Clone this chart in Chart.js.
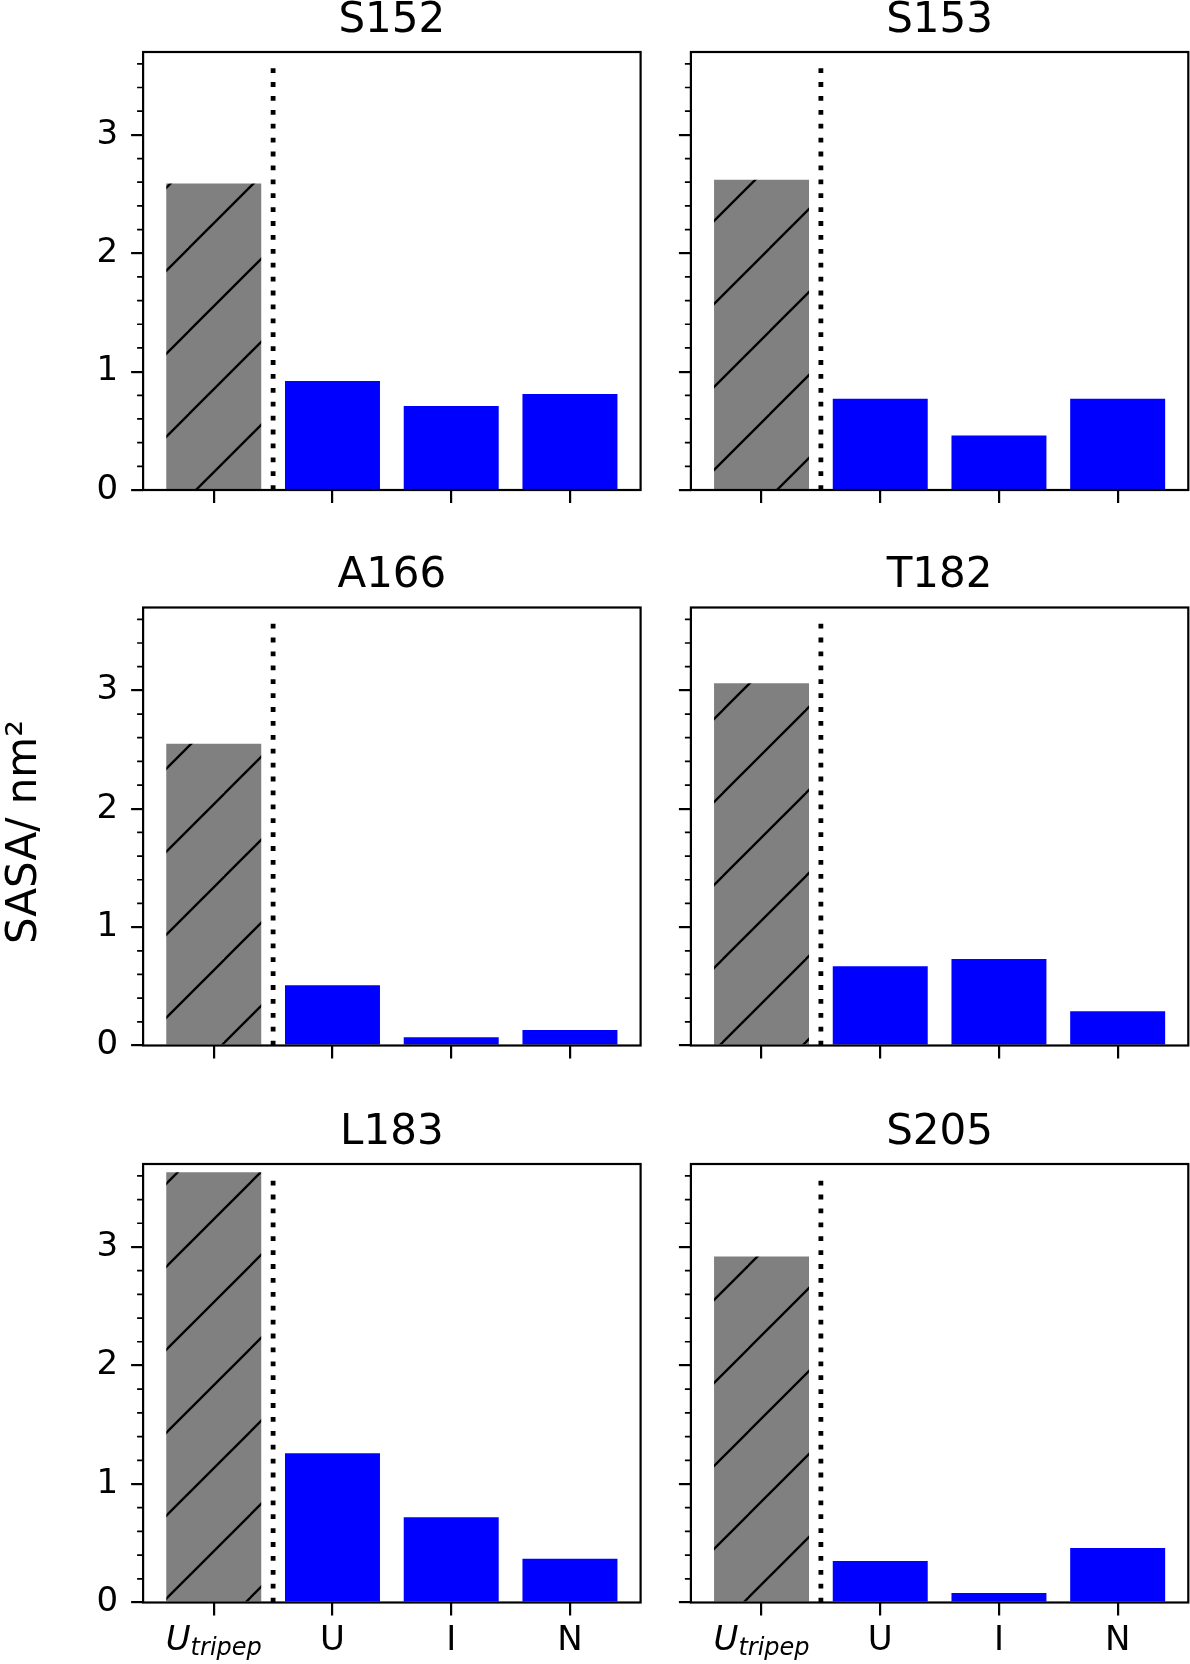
<!DOCTYPE html>
<html>
<head>
<meta charset="utf-8">
<script src="https://cdn.jsdelivr.net/npm/chart.js@4.4.1/dist/chart.umd.min.js"></script>
<style>
    html, body { margin: 0; padding: 0; background: #fff; }
    body { width: 1190px; height: 1664px; position: relative; overflow: hidden; }
    .panel { position: absolute; }
    .panel canvas { display: block; }
</style>
</head>
<body>
<script>
// categories and tick values
const categories = ['U_tripep', 'U', 'I', 'N'];
const xTicks = [0, 1, 2, 3];
const yTicks = [0, 1, 2, 3];
const yMinorTicks = [0.2, 0.4, 0.6, 0.8, 1.2, 1.4, 1.6, 1.8, 2.2, 2.4, 2.6, 2.8, 3.2, 3.4, 3.6];
const yMax = 3.7;
const yLabel = 'SASA/ nm²';

// SASA values per residue: U_tripep, U, I, N
const panelNames = ['S152', 'S153', 'A166', 'T182', 'L183', 'S205'];
const sasaS152 = [2.59, 0.92, 0.71, 0.81];
const sasaS153 = [2.62, 0.77, 0.46, 0.77];
const sasaA166 = [2.55, 0.51, 0.07, 0.13];
const sasaT182 = [3.06, 0.67, 0.73, 0.29];
const sasaL183 = [3.63, 1.26, 0.72, 0.37];
const sasaS205 = [2.92, 0.35, 0.08, 0.46];
const panelValues = [sasaS152, sasaS153, sasaA166, sasaT182, sasaL183, sasaS205];

// the dotted separator runs up to the largest value of all panels
const vlineTop = Math.max(...panelValues.flat());

// layout of the 3x2 grid (page pixels)
const colBoxes = [
    { left: 0, width: 650, yWidth: 143.1, padRight: 9.4 },
    { left: 650, width: 540, yWidth: 40.9, padRight: 1.7 }
];
const rowBoxes = [
    { top: 0, height: 540, padTop: 52, xHeight: 50 },
    { top: 545, height: 545, padTop: 62.5, xHeight: 44.5 },
    { top: 1100, height: 564, padTop: 64, xHeight: 61.5 }
];
const tickFontSize = 34;
const tickPadX = 5;

Chart.defaults.font.family = '"DejaVu Sans"';
Chart.defaults.color = '#000';

function makeHatch(pageLeft, pageTop) {
    const P = 83;
    const tile = document.createElement('canvas');
    tile.width = P;
    tile.height = P;
    const t = tile.getContext('2d');
    t.fillStyle = '#808080';
    t.fillRect(0, 0, P, P);
    t.strokeStyle = '#000';
    t.lineWidth = 2.3;
    for (const k of [0, P, 2 * P]) {
        t.beginPath();
        t.moveTo(k + 10, -10);
        t.lineTo(k - P - 10, P + 10);
        t.stroke();
    }
    const pattern = t.createPattern(tile, 'repeat');
    const shift = (((22 - pageLeft - pageTop) % P) + P) % P;
    pattern.setTransform(new DOMMatrix().translate(shift, 0));
    return pattern;
}

const panelDecor = {
    id: 'panelDecor',
    afterDatasetsDraw(chart, args, opts) {
        const { ctx, chartArea: a, scales: { x, y } } = chart;
        ctx.save();
        ctx.strokeStyle = '#000';

        // minor ticks on y
        ctx.lineWidth = 1.7;
        ctx.beginPath();
        yMinorTicks.forEach(v => {
            const py = y.getPixelForValue(v);
            ctx.moveTo(a.left - 6, py);
            ctx.lineTo(a.left, py);
        });
        ctx.stroke();

        // axes frame
        ctx.lineWidth = 2.2;
        ctx.strokeRect(a.left, a.top, a.right - a.left, a.bottom - a.top);

        // panel title
        ctx.fillStyle = '#000';
        ctx.font = '42px "DejaVu Sans"';
        ctx.textAlign = 'center';
        ctx.textBaseline = 'alphabetic';
        ctx.fillText(opts.title, (a.left + a.right) / 2, a.top - 20.5);

        // U_tripep tick label (italic with subscript)
        if (opts.xLabels) {
            const fontMain = `italic ${tickFontSize}px "DejaVu Sans"`;
            const fontSub = 'italic 24px "DejaVu Sans"';
            const yMid = x.top + 13 + tickPadX + tickFontSize * 1.2 / 2;
            ctx.font = fontMain;
            ctx.textBaseline = 'middle';
            const m = ctx.measureText('U');
            const base = yMid + m.actualBoundingBoxDescent;
            const wU = m.width;
            ctx.font = fontSub;
            const wS = ctx.measureText('tripep').width;
            const x0 = x.getPixelForValue(xTicks[0]) - (wU + wS) / 2;
            ctx.textAlign = 'left';
            ctx.textBaseline = 'alphabetic';
            ctx.font = fontMain;
            ctx.fillText('U', x0, base);
            ctx.font = fontSub;
            ctx.fillText('tripep', x0 + wU, base + 5);
        }

        // shared y label, centred on the page
        if (opts.yLabel) {
            ctx.translate(36, 832 - opts.pageTop);
            ctx.rotate(-Math.PI / 2);
            ctx.font = '42px "DejaVu Sans"';
            ctx.textAlign = 'center';
            ctx.textBaseline = 'alphabetic';
            ctx.fillText(yLabel, 0, 0);
        }
        ctx.restore();
    }
};

panelNames.forEach((name, idx) => {
    const col = colBoxes[idx % 2];
    const row = rowBoxes[Math.floor(idx / 2)];
    const isLeft = idx % 2 === 0;
    const isBottom = Math.floor(idx / 2) === rowBoxes.length - 1;

    const div = document.createElement('div');
    div.className = 'panel';
    div.style.left = col.left + 'px';
    div.style.top = row.top + 'px';
    div.style.width = col.width + 'px';
    div.style.height = row.height + 'px';
    const canvas = document.createElement('canvas');
    div.appendChild(canvas);
    document.body.appendChild(div);

    const hatch = makeHatch(col.left, row.top);
    const values = panelValues[idx];

    new Chart(canvas, {
        type: 'bar',
        data: {
            datasets: [
                {
                    type: 'bar',
                    data: values.map((v, i) => ({ x: xTicks[i], y: v })),
                    backgroundColor: values.map((v, i) => i === 0 ? hatch : '#0000ff'),
                    borderWidth: 0,
                    barPercentage: 0.8,
                    categoryPercentage: 1
                },
                {
                    type: 'line',
                    data: [{ x: 0.5, y: 0 }, { x: 0.5, y: vlineTop }],
                    borderColor: '#000',
                    borderWidth: 4.8,
                    borderDash: [4.8, 9.1],
                    borderCapStyle: 'butt',
                    pointRadius: 0,
                    fill: false
                }
            ]
        },
        options: {
            responsive: true,
            maintainAspectRatio: false,
            animation: false,
            devicePixelRatio: 1,
            events: [],
            layout: { padding: { top: row.padTop, right: col.padRight, bottom: 0, left: 0 } },
            plugins: {
                legend: { display: false },
                tooltip: { enabled: false },
                title: { display: false },
                panelDecor: {
                    title: name,
                    xLabels: isBottom,
                    yLabel: isLeft && idx === 2,
                    pageTop: row.top
                }
            },
            scales: {
                x: {
                    type: 'linear',
                    min: -0.595,
                    max: 3.595,
                    offset: false,
                    afterBuildTicks: s => { s.ticks = xTicks.map(v => ({ value: v })); },
                    afterFit: s => { s.height = row.xHeight; },
                    border: { display: false },
                    grid: {
                        drawOnChartArea: false,
                        drawTicks: true,
                        offset: false,
                        tickLength: 13,
                        tickWidth: 2.2,
                        lineWidth: 2.2,
                        color: '#000'
                    },
                    ticks: {
                        display: isBottom,
                        maxRotation: 0,
                        padding: tickPadX,
                        font: { size: tickFontSize },
                        color: '#000',
                        callback: (v, i) => i === 0 ? '' : categories[i]
                    }
                },
                y: {
                    type: 'linear',
                    min: 0,
                    max: yMax,
                    afterBuildTicks: s => { s.ticks = yTicks.map(v => ({ value: v })); },
                    afterFit: s => { s.width = col.yWidth; },
                    border: { display: false },
                    grid: {
                        drawOnChartArea: false,
                        drawTicks: true,
                        tickLength: 12,
                        tickWidth: 2.2,
                        lineWidth: 2.2,
                        color: '#000'
                    },
                    ticks: {
                        display: isLeft,
                        padding: 13,
                        font: { size: tickFontSize },
                        color: '#000'
                    }
                }
            }
        },
        plugins: [panelDecor]
    });
});
</script>
</body>
</html>
